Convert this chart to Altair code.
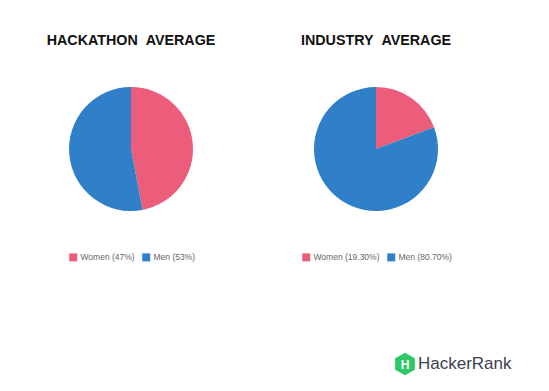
import altair as alt
import pandas as pd

titles = ["HACKATHON\u00a0\u00a0AVERAGE", "INDUSTRY\u00a0\u00a0AVERAGE"]
genders = ["Women", "Men"]
hackathon_pct = [47, 53]
industry_pct = [19.30, 80.70]
hack_labels = ["Women (47%)", "Men (53%)"]
ind_labels = ["Women (19.30%)", "Men (80.70%)"]
colors = ["#EB5D7B", "#2F7FC9"]

W, H = 533, 375

def pie(values, labels, cx, cy, lx, ly):
    df = pd.DataFrame({"gender": genders, "value": values, "label": labels, "order": [0, 1]})
    return alt.Chart(df).mark_arc(outerRadius=62, strokeWidth=0).encode(
        theta=alt.Theta("value:Q", stack=True),
        order=alt.Order("order:Q"),
        color=alt.Color("label:N", sort=labels,
                        scale=alt.Scale(domain=labels, range=colors),
                        legend=alt.Legend(title=None, orient="none", direction="horizontal",
                                          legendX=lx, legendY=ly, symbolType="square",
                                          symbolSize=64, symbolStrokeWidth=0,
                                          labelFontSize=8.5, labelColor="#666666",
                                          labelFont="Liberation Sans", columnPadding=7,
                                          symbolOffset=0, labelOffset=3, padding=0)),
        x=alt.value(cx), y=alt.value(cy),
    )

p1 = pie(hackathon_pct, hack_labels, 123, 141, 61, 245)
p2 = pie(industry_pct, ind_labels, 368, 141, 294, 245)

tdf = pd.DataFrame({"t": titles, "x": [123, 368]})
title_layer = alt.Chart(tdf).mark_text(font="Liberation Sans", fontWeight="bold",
                                       fontSize=14.3, color="#111111", baseline="middle").encode(
    text="t:N",
    x=alt.X("x:Q", scale=alt.Scale(domain=[0, W], range=[0, W]), axis=None),
    y=alt.value(33),
)

logo_df = pd.DataFrame({"a": [0]})
hexagon = alt.Chart(logo_df).mark_point(
    shape="M0,-1L0.866,-0.5L0.866,0.5L0,1L-0.866,0.5L-0.866,-0.5Z",
    filled=True, color="#2EC866", size=420, opacity=1, strokeWidth=2, stroke="#2EC866",
    strokeJoin="round",
).encode(x=alt.value(397), y=alt.value(356))
hletter = alt.Chart(logo_df).mark_text(text="H", font="Liberation Sans", fontWeight="bold",
                                       fontSize=12, color="white", baseline="middle").encode(
    x=alt.value(397), y=alt.value(356.5))
brand = alt.Chart(logo_df).mark_text(text="HackerRank", font="Liberation Sans", fontSize=17,
                                     color="#39424E", align="left", baseline="middle").encode(
    x=alt.value(410), y=alt.value(356))

chart = alt.layer(p1, p2, title_layer, hexagon, hletter, brand).resolve_scale(
    theta="independent", color="independent"
).properties(
    width=W, height=H, autosize=alt.AutoSizeParams(type="none"), padding=0,
    background="white",
).configure_view(strokeWidth=0, stroke="transparent")

chart.save("out.html", embed_options={"renderer": "svg", "actions": False})
